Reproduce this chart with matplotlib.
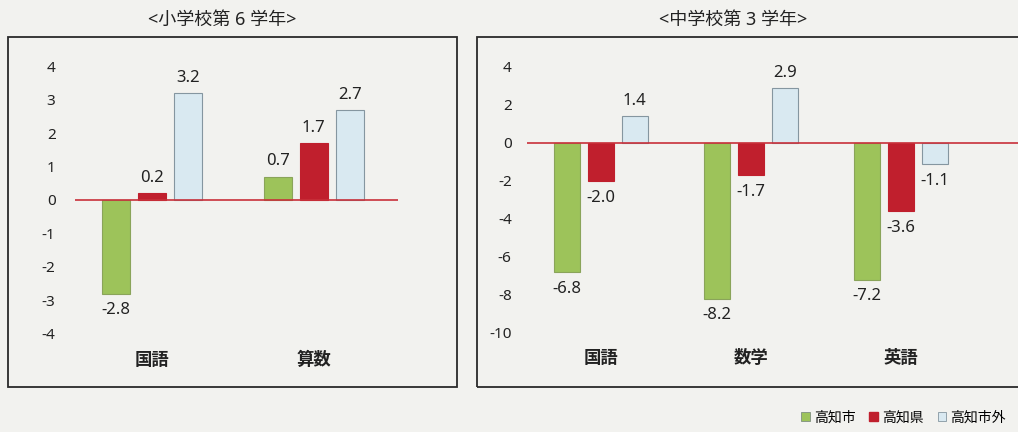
import matplotlib
matplotlib.use('Agg')
import matplotlib.pyplot as plt
from matplotlib.patches import Rectangle, Patch
import numpy as np

plt.rcParams['font.family'] = ['Noto Sans', 'Noto Sans CJK JP', 'DejaVu Sans']

# data
elem_subjects = ['国語', '算数']
elem_city = [-2.8, 0.7]
elem_pref = [0.2, 1.7]
elem_outside = [3.2, 2.7]

jh_subjects = ['国語', '数学', '英語']
jh_city = [-6.8, -8.2, -7.2]
jh_pref = [-2.0, -1.7, -3.6]
jh_outside = [1.4, 2.9, -1.1]

series_names = ['高知市', '高知県', '高知市外']
green = '#9dc35a'
red = '#c01f2d'
blue = '#d9e9f1'
bg = '#f2f2ef'

W, H = 1018, 432
fig = plt.figure(figsize=(W / 100, H / 100), dpi=100)
fig.patch.set_facecolor(bg)


def px_axes(x0, x1, y0, y1):
    return fig.add_axes([x0 / W, 1 - y1 / H, (x1 - x0) / W, (y1 - y0) / H])


def box(x0, x1, y0, y1):
    r = Rectangle((x0 / W, 1 - y1 / H), (x1 - x0) / W, (y1 - y0) / H,
                  transform=fig.transFigure, fill=False, ec='#2a2a2a',
                  lw=1.3, clip_on=False)
    fig.patches.append(r)


def panel(ax, subjects, vals, ylim, yticks, width, step, tickpad):
    x = np.arange(len(subjects))
    cols = [green, red, blue]
    edges = ['#8aa45a', red, '#8596a0']
    for k, v in enumerate(vals):
        bars = ax.bar(x + (k - 1) * step, v, width, color=cols[k],
                      edgecolor=edges[k], linewidth=0.8, zorder=2)
        for b, val in zip(bars, v):
            xc = b.get_x() + b.get_width() / 2
            off = 11 if val >= 0 else -12
            ax.annotate('%.1f' % val, (xc, val), xytext=(0, off),
                        textcoords='offset points', ha='center',
                        va='center', fontsize=12, color='#222222')
    ax.axhline(0, color='#c8303a', lw=1.2, zorder=3)
    ax.set_ylim(*ylim)
    ax.set_yticks(yticks)
    ax.set_yticklabels([str(t) for t in yticks])
    ax.set_xticks(x)
    ax.set_xticklabels(subjects, fontsize=12.5, fontweight='bold')
    ax.tick_params(axis='y', length=0, pad=tickpad, labelsize=11,
                   colors='#222222')
    ax.tick_params(axis='x', length=0, pad=5, colors='#222222')
    for s in ax.spines.values():
        s.set_visible(False)
    ax.set_facecolor('none')


# left panel: elementary 6th grade
ax1 = px_axes(75, 398, 56.4, 343.6)
ax1.set_xlim(-0.475, 1.52)
panel(ax1, elem_subjects, [elem_city, elem_pref, elem_outside],
      (-4.3, 4.3), list(range(4, -5, -1)), 0.172, 0.222, 14)
box(8, 457, 37, 387)
fig.text(222 / W, 1 - 20 / H, '<小学校第 6 学年>', ha='center', va='center',
         fontsize=13, color='#222222')

# right panel: junior high 3rd grade
ax2 = px_axes(527, 1018, 57.5, 342.5)
ax2.set_xlim(-0.493, 2.78)
panel(ax2, jh_subjects, [jh_city, jh_pref, jh_outside],
      (-10.5, 4.5), list(range(4, -11, -2)), 0.173, 0.225, 11)
box(477, 1030, 37, 387)
fig.text(733 / W, 1 - 20 / H, '<中学校第 3 学年>', ha='center', va='center',
         fontsize=13, color='#222222')

# legend
handles = [Patch(facecolor=green, edgecolor='#7f8f80', lw=0.6),
           Patch(facecolor=red, edgecolor=red),
           Patch(facecolor=blue, edgecolor='#8596a0', lw=0.6)]
leg = fig.legend(handles, series_names, loc='center right',
                 bbox_to_anchor=(1.0, 1 - 418 / H), ncol=3, frameon=False,
                 fontsize=10, handlelength=0.6, handleheight=0.6,
                 handletextpad=0.3, columnspacing=1.0)

fig.savefig('out.png', dpi=100, facecolor=bg)
